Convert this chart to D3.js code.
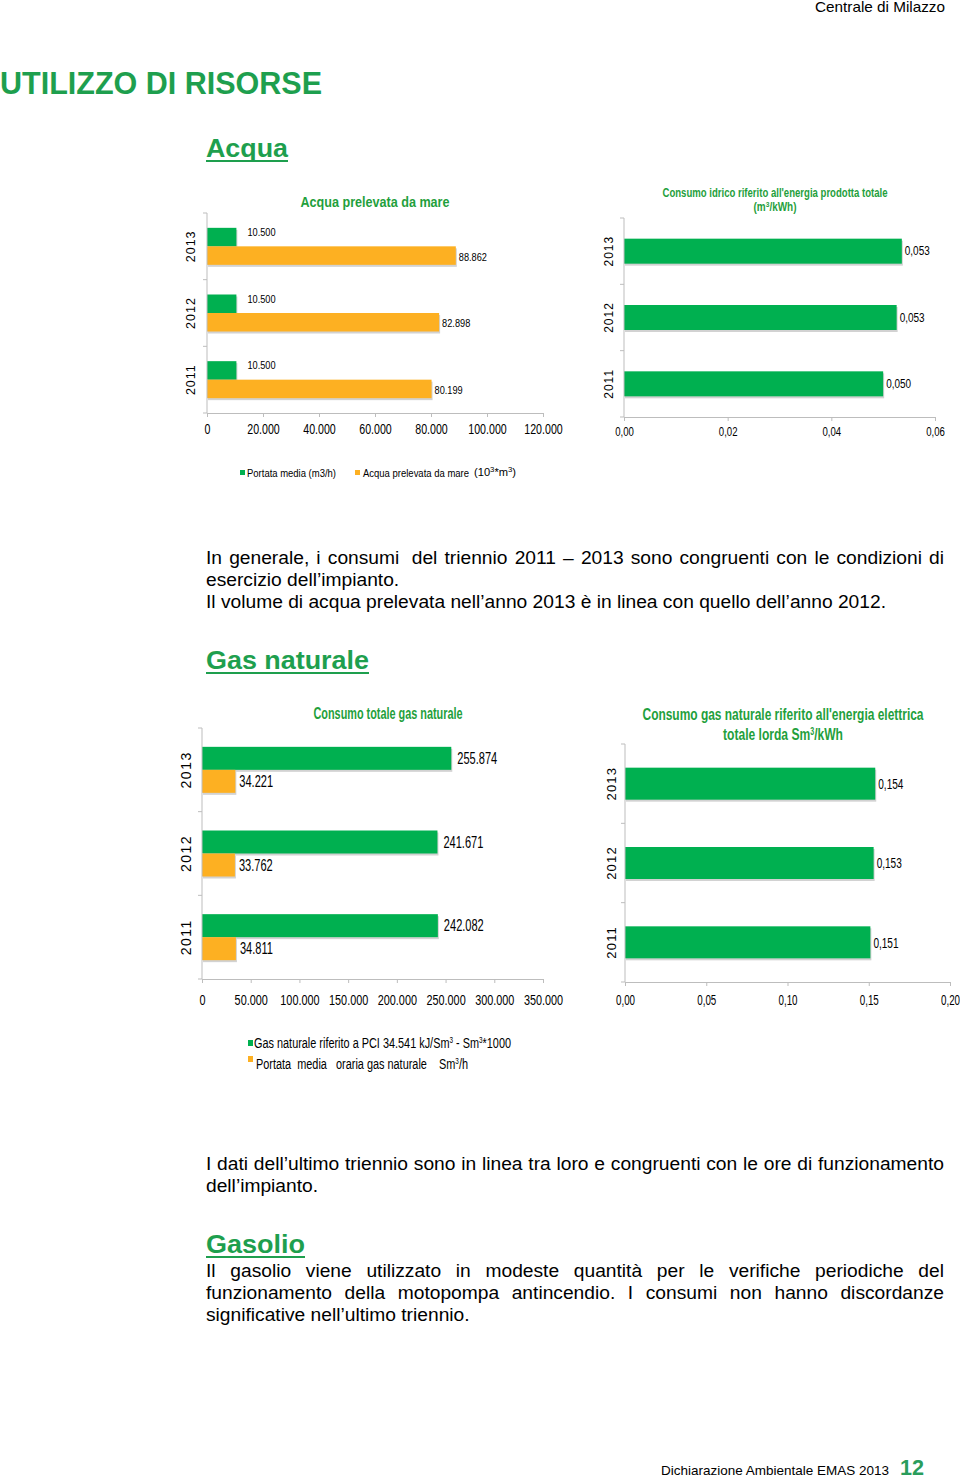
<!DOCTYPE html>
<html><head><meta charset="utf-8">
<script src="https://cdn.jsdelivr.net/npm/d3@7"></script>
<style>
html,body{margin:0;padding:0;background:#fff;}
svg{display:block;}
</style></head><body>
<svg id="page" width="960" height="1480"></svg>
<script>
// ---------------- DATA ----------------
const years = ["2013", "2012", "2011"];
// Acqua prelevata da mare
const waterFlow = [10500, 10500, 10500];          // Portata media (m3/h)
const waterTaken = [88862, 82898, 80199];         // Acqua prelevata da mare (10^3*m3)
const waterTicks = [0, 20000, 40000, 60000, 80000, 100000, 120000];
// Consumo idrico riferito all'energia prodotta totale (m3/kWh)
const waterSpecific = [0.0536, 0.0526, 0.0500];
const waterSpecificLabels = ["0,053", "0,053", "0,050"];
const waterSpecificTicks = [0, 0.02, 0.04, 0.06];
// Consumo totale gas naturale
const gasTotal = [255874, 241671, 242082];        // Sm3*1000
const gasFlow = [34221, 33762, 34811];            // Sm3/h
const gasTicks = [0, 50000, 100000, 150000, 200000, 250000, 300000, 350000];
// Consumo gas naturale riferito all'energia elettrica totale lorda Sm3/kWh
const gasSpecific = [0.154, 0.153, 0.151];
const gasSpecificTicks = [0, 0.05, 0.10, 0.15, 0.20];

// ---------------- STYLE ----------------
const GREEN = "#00B050", ORANGE = "#FDB022", HEAD = "#1E9F4E", TITLE = "#1FA03C";
const SANS = "'Liberation Sans',Arial,sans-serif";
const loc = d3.formatLocale({decimal: ",", thousands: ".", grouping: [3], currency: ["", "€"]});
const fInt = loc.format(",d"), f2 = loc.format(".2f"), f3 = loc.format(".3f");

const svg = d3.select("#page");

function fit(sel, w) { return sel.attr("textLength", w).attr("lengthAdjust", "spacingAndGlyphs"); }
// condense text horizontally by ratio (narrow font look)
function nar(sel, r) {
  sel.each(function () {
    const L = this.getComputedTextLength();
    d3.select(this).attr("textLength", L * r).attr("lengthAdjust", "spacingAndGlyphs");
  });
  return sel;
}

function txt(x, y, s, o = {}) {
  const t = svg.append("text").attr("x", x).attr("y", y)
    .attr("font-family", SANS).attr("font-size", o.size || 17)
    .attr("font-weight", o.weight || "normal").attr("fill", o.fill || "#000")
    .attr("text-anchor", o.anchor || "start").text(s);
  if (o.w) fit(t, o.w);
  return t;
}
function sup(t, s, size) {
  t.append("tspan").attr("baseline-shift", "super").attr("font-size", size).text(s);
  return t;
}

// paragraph scaling ratio, derived from a known non-justified reference line
const PSIZE = 17.5;
let PR = 1;
{
  const probe = svg.append("text").attr("font-family", SANS).attr("font-size", PSIZE)
    .text("Il volume di acqua prelevata nell\u2019anno 2013 è in linea con quello dell\u2019anno 2012.");
  PR = 680 / probe.node().getComputedTextLength();
  probe.remove();
}
function pline(x, y, s) {
  return nar(svg.append("text").attr("x", x).attr("y", y).attr("font-family", SANS)
    .attr("font-size", PSIZE).attr("fill", "#000").text(s), PR);
}
// Justified paragraph line: spread words across width
function justLine(x, y, s, width) {
  const words = s.split(" ").filter(d => d.length);
  const g = svg.append("g");
  const nodes = words.map(w => g.append("text").attr("y", y).attr("font-family", SANS)
      .attr("font-size", PSIZE).attr("fill", "#000").text(w));
  const ws = nodes.map(n => n.node().getComputedTextLength() * PR);
  const tot = d3.sum(ws);
  const gap = (width - tot) / (words.length - 1);
  let cx = x;
  nodes.forEach((n, i) => {
    n.attr("x", cx);
    fit(n, ws[i]);
    cx += ws[i] + gap;
  });
}

function heading(x, y, s, w, size) {
  txt(x, y, s, {size: size, weight: "bold", fill: HEAD, w: w});
  svg.append("rect").attr("x", x).attr("y", y + 3).attr("width", w).attr("height", 2).attr("fill", HEAD);
}

// ---------------- HORIZONTAL BAR CHART ----------------
function hbar(o) {
  const g = svg.append("g");
  const x = d3.scaleLinear().domain([0, o.max]).range([o.x0, o.x1]);
  const y = d3.scaleBand().domain(years).range([o.yTop, o.yBot]);
  const keys = o.series.map(s => s.key);
  const bw = y.bandwidth();
  const sub = d3.scaleBand().domain(keys).range([(bw - o.groupH) / 2, (bw + o.groupH) / 2]);

  // bars + shadow
  o.series.forEach(s => {
    const rows = years.map((yr, i) => ({yr, v: s.values[i], lab: s.labels ? s.labels[i] : s.fmt(s.values[i])}));
    g.selectAll(null).data(rows).enter().append("rect")
      .attr("x", x(0) + 1).attr("y", d => y(d.yr) + sub(s.key) + 2)
      .attr("width", d => x(d.v) - x(0)).attr("height", sub.bandwidth())
      .attr("fill", "#d2d2d2");
    g.selectAll(null).data(rows).enter().append("rect")
      .attr("x", x(0)).attr("y", d => y(d.yr) + sub(s.key))
      .attr("width", d => x(d.v) - x(0)).attr("height", sub.bandwidth())
      .attr("fill", s.color);
    const lt = g.selectAll(null).data(rows).enter().append("text")
      .attr("x", d => x(d.v) + s.labDx)
      .attr("y", d => y(d.yr) + sub(s.key) + sub.bandwidth() / 2 + s.labDy)
      .attr("dy", "0.35em")
      .attr("font-family", SANS).attr("font-size", o.labSize).attr("fill", "#000")
      .text(d => d.lab);
    nar(lt, o.labR);
  });

  // bottom axis
  const ax = g.append("g").attr("transform", `translate(0,${o.yBot})`)
    .call(d3.axisBottom(x).tickValues(o.ticks).tickFormat(o.tickFmt).tickSize(4).tickSizeOuter(0));
  ax.select(".domain").attr("stroke", "#bdbdbd");
  ax.selectAll(".tick line").attr("stroke", "#bdbdbd");
  const tt = ax.selectAll(".tick text").attr("y", o.tickOff).attr("dy", "0.35em")
    .attr("font-family", SANS).attr("font-size", o.tickSize).attr("fill", "#000");
  nar(tt, o.tickR);

  // left axis (ticks at band boundaries)
  g.append("line").attr("x1", x(0)).attr("x2", x(0)).attr("y1", o.yTop).attr("y2", o.yBot).attr("stroke", "#bdbdbd");
  const bounds = years.map(d => y(d)).concat([o.yBot]);
  g.selectAll(null).data(bounds).enter().append("line")
    .attr("x1", x(0) - 4).attr("x2", x(0)).attr("y1", d => d).attr("y2", d => d).attr("stroke", "#bdbdbd");
  g.selectAll(null).data(years).enter().append("text")
    .attr("transform", d => `translate(${o.yearX},${y(d) + bw / 2}) rotate(-90)`)
    .attr("text-anchor", "middle").attr("dy", "0.35em")
    .attr("font-family", SANS).attr("font-size", o.yearSize).attr("letter-spacing", o.yearLs)
    .attr("fill", "#000").text(d => d);
}

// ---------------- PAGE TEXT ----------------
txt(945, 12, "Centrale di Milazzo", {size: 14.5, anchor: "end", w: 130});
txt(0, 94, "UTILIZZO DI RISORSE", {size: 31, weight: "bold", fill: HEAD, w: 322});
heading(206, 157, "Acqua", 82, 26);

// Water charts
txt(375, 207, "Acqua prelevata da mare", {size: 14.5, weight: "bold", fill: TITLE, anchor: "middle", w: 149});
hbar({
  x0: 207, x1: 543, max: 120000, yTop: 213, yBot: 413, groupH: 37,
  ticks: waterTicks, tickFmt: fInt, tickOff: 16, tickSize: 14, tickR: 0.76,
  labSize: 11.5, labR: 0.8, yearX: 191, yearSize: 12.5, yearLs: 1,
  series: [
    {key: "flow", values: waterFlow, color: GREEN, fmt: fInt, labDx: 11, labDy: -5},
    {key: "taken", values: waterTaken, color: ORANGE, fmt: fInt, labDx: 3, labDy: 1}
  ]
});
txt(775, 197, "Consumo idrico riferito all'energia prodotta totale", {size: 12, weight: "bold", fill: TITLE, anchor: "middle", w: 225});
{
  const t = txt(775, 211, "(m", {size: 12, weight: "bold", fill: TITLE, anchor: "middle"});
  sup(t, "3", 8);
  t.append("tspan").text("/kWh)");
  fit(t, 43);
}
hbar({
  x0: 624, x1: 935, max: 0.06, yTop: 218, yBot: 417, groupH: 25,
  ticks: waterSpecificTicks, tickFmt: f2, tickOff: 15, tickSize: 12, tickR: 0.8,
  labSize: 12, labR: 0.83, yearX: 609, yearSize: 12, yearLs: 1,
  series: [
    {key: "spec", values: waterSpecific, labels: waterSpecificLabels, color: GREEN, fmt: f3, labDx: 3, labDy: 0}
  ]
});

// water legend
svg.append("rect").attr("x", 240).attr("y", 470).attr("width", 5).attr("height", 5).attr("fill", GREEN);
txt(247, 477, "Portata media (m3/h)", {size: 11.5, w: 89});
svg.append("rect").attr("x", 355).attr("y", 470).attr("width", 5).attr("height", 5).attr("fill", ORANGE);
txt(363, 477, "Acqua prelevata da mare", {size: 11.5, w: 106});
{
  const t = txt(474, 476, "(10", {size: 11.5});
  sup(t, "3", 8);
  t.append("tspan").text("*m");
  sup(t, "3", 8);
  t.append("tspan").text(")");
  fit(t, 42);
}

// paragraph 1
justLine(206, 564, "In generale, i consumi \u00a0del triennio 2011 \u2013 2013 sono congruenti con le condizioni di", 738);
pline(206, 586, "esercizio dell\u2019impianto.");
pline(206, 608, "Il volume di acqua prelevata nell\u2019anno 2013 è in linea con quello dell\u2019anno 2012.");

heading(206, 669, "Gas naturale", 163, 26);

// Gas charts
txt(388, 719, "Consumo totale gas naturale", {size: 16, weight: "bold", fill: TITLE, anchor: "middle", w: 149});
hbar({
  x0: 202, x1: 543, max: 350000, yTop: 728, yBot: 979, groupH: 46,
  ticks: gasTicks, tickFmt: fInt, tickOff: 21, tickSize: 15.5, tickR: 0.7,
  labSize: 16, labR: 0.69, yearX: 186, yearSize: 14, yearLs: 1.5,
  series: [
    {key: "tot", values: gasTotal, color: GREEN, fmt: fInt, labDx: 6, labDy: 0},
    {key: "flow", values: gasFlow, color: ORANGE, fmt: fInt, labDx: 4, labDy: 0}
  ]
});
txt(783, 720, "Consumo gas naturale riferito all'energia elettrica", {size: 17, weight: "bold", fill: TITLE, anchor: "middle", w: 281});
{
  const t = txt(783, 740, "totale lorda Sm", {size: 17, weight: "bold", fill: TITLE, anchor: "middle"});
  sup(t, "3", 10);
  t.append("tspan").text("/kWh");
  fit(t, 120);
}
hbar({
  x0: 625, x1: 950, max: 0.2, yTop: 744, yBot: 982, groupH: 32,
  ticks: gasSpecificTicks, tickFmt: f2, tickOff: 18, tickSize: 14, tickR: 0.7,
  labSize: 15, labR: 0.67, yearX: 611, yearSize: 13, yearLs: 1.2,
  series: [
    {key: "spec", values: gasSpecific, color: GREEN, fmt: f3, labDx: 3, labDy: 0}
  ]
});

// gas legend
svg.append("rect").attr("x", 248).attr("y", 1040).attr("width", 5).attr("height", 6).attr("fill", GREEN);
{
  const t = txt(254, 1048, "Gas naturale riferito a PCI 34.541 kJ/Sm", {size: 15.5});
  sup(t, "3", 9);
  t.append("tspan").text(" - Sm");
  sup(t, "3", 9);
  t.append("tspan").text("*1000");
  fit(t, 257);
}
svg.append("rect").attr("x", 248).attr("y", 1056).attr("width", 5).attr("height", 6).attr("fill", ORANGE);
{
  const t = txt(256, 1069, "Portata\u00a0 media\u00a0\u00a0 oraria gas naturale\u00a0\u00a0\u00a0 Sm", {size: 15.5});
  sup(t, "3", 9);
  t.append("tspan").text("/h");
  fit(t, 212);
}

// paragraph 2
justLine(206, 1170, "I dati dell\u2019ultimo triennio sono in linea tra loro e congruenti con le ore di funzionamento", 738);
pline(206, 1192, "dell\u2019impianto.");

heading(206, 1253, "Gasolio", 99, 26);
justLine(206, 1277, "Il gasolio viene utilizzato in modeste quantità per le verifiche periodiche del", 738);
justLine(206, 1299, "funzionamento della motopompa antincendio. I consumi non hanno discordanze", 738);
pline(206, 1321, "significative nell\u2019ultimo triennio.");

// footer
txt(661, 1475, "Dichiarazione Ambientale EMAS 2013", {size: 13.5, w: 228});
txt(900, 1475, "12", {size: 22, weight: "bold", fill: "#2A9D5C", w: 24});
</script>
</body></html>
